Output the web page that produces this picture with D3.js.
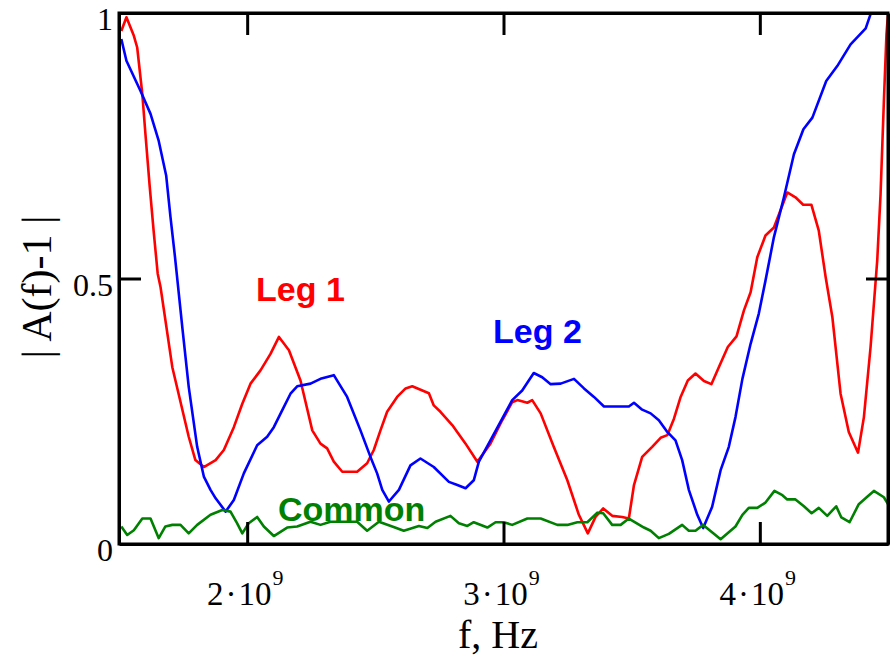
<!DOCTYPE html>
<html>
<head>
<meta charset="utf-8">
<script src="https://cdn.jsdelivr.net/npm/d3@7"></script>
<style>
  html, body { margin: 0; padding: 0; background: #fff; }
  svg { display: block; }
</style>
</head>
<body>
<svg id="chart" width="892" height="657"></svg>
<script>
// Frequencies in units of 1e9 Hz, magnitudes |A(f)-1|
const fLeg1 = [1.509,1.529,1.558,1.571,1.591,1.603,1.620,1.636,1.651,1.662,1.708,1.772,1.798,1.831,1.877,1.909,1.948,1.981,2.013,2.052,2.091,2.124,2.163,2.208,2.254,2.286,2.312,2.338,2.371,2.429,2.468,2.494,2.520,2.546,2.585,2.618,2.644,2.709,2.728,2.754,2.800,2.852,2.898,2.949,2.995,3.034,3.054,3.093,3.112,3.145,3.196,3.249,3.294,3.329,3.359,3.389,3.424,3.463,3.489,3.509,3.541,3.580,3.613,3.639,3.665,3.691,3.719,3.749,3.782,3.811,3.840,3.875,3.909,3.938,3.964,3.990,4.022,4.055,4.107,4.139,4.169,4.201,4.230,4.257,4.283,4.315,4.347,4.383,4.406,4.432,4.458,4.471,4.484,4.494,4.500];
const leg1 = [0.966,0.992,0.957,0.935,0.847,0.773,0.672,0.585,0.509,0.484,0.333,0.202,0.158,0.145,0.158,0.177,0.220,0.264,0.302,0.327,0.358,0.390,0.365,0.308,0.214,0.189,0.180,0.155,0.136,0.136,0.152,0.177,0.214,0.249,0.277,0.293,0.297,0.284,0.261,0.249,0.224,0.189,0.155,0.189,0.233,0.267,0.271,0.266,0.271,0.246,0.183,0.120,0.055,0.020,0.051,0.067,0.053,0.051,0.048,0.111,0.164,0.183,0.200,0.205,0.236,0.277,0.308,0.321,0.307,0.301,0.333,0.371,0.391,0.440,0.474,0.540,0.581,0.596,0.662,0.653,0.639,0.639,0.590,0.502,0.427,0.283,0.211,0.172,0.239,0.371,0.534,0.659,0.835,0.960,0.998];

const fLeg2 = [1.509,1.529,1.584,1.623,1.655,1.684,1.701,1.717,1.724,1.747,1.772,1.805,1.831,1.857,1.877,1.916,1.948,1.987,2.039,2.078,2.104,2.137,2.169,2.195,2.247,2.286,2.338,2.390,2.442,2.481,2.507,2.527,2.553,2.592,2.637,2.676,2.728,2.787,2.820,2.852,2.884,2.904,2.949,2.995,3.034,3.073,3.118,3.151,3.184,3.223,3.275,3.314,3.353,3.392,3.489,3.509,3.541,3.574,3.606,3.639,3.671,3.697,3.723,3.756,3.779,3.814,3.847,3.879,3.905,3.932,3.964,3.996,4.022,4.055,4.094,4.133,4.170,4.205,4.259,4.302,4.354,4.413,4.432];
const leg2 = [0.951,0.910,0.853,0.810,0.759,0.694,0.615,0.547,0.515,0.408,0.296,0.183,0.127,0.102,0.086,0.061,0.083,0.133,0.186,0.202,0.220,0.252,0.283,0.297,0.302,0.311,0.318,0.277,0.214,0.164,0.133,0.102,0.080,0.102,0.148,0.161,0.145,0.117,0.111,0.105,0.120,0.155,0.195,0.236,0.271,0.289,0.322,0.314,0.301,0.302,0.311,0.293,0.277,0.259,0.259,0.266,0.253,0.246,0.233,0.211,0.195,0.158,0.102,0.055,0.030,0.070,0.139,0.183,0.239,0.311,0.377,0.434,0.496,0.578,0.653,0.734,0.781,0.803,0.872,0.900,0.941,0.971,0.998];

const fCommon = [1.509,1.532,1.558,1.591,1.623,1.655,1.681,1.708,1.740,1.772,1.805,1.857,1.903,1.935,1.961,1.981,2.006,2.039,2.065,2.104,2.156,2.195,2.247,2.286,2.325,2.390,2.429,2.468,2.514,2.566,2.611,2.670,2.703,2.735,2.793,2.826,2.859,2.884,2.937,2.969,3.001,3.034,3.093,3.145,3.210,3.249,3.288,3.327,3.366,3.389,3.424,3.457,3.489,3.548,3.574,3.606,3.645,3.697,3.723,3.749,3.779,3.847,3.905,3.932,3.957,3.990,4.022,4.057,4.088,4.107,4.139,4.172,4.202,4.230,4.263,4.298,4.318,4.350,4.386,4.419,4.445,4.484,4.500];
const common = [0.033,0.017,0.026,0.048,0.048,0.011,0.033,0.036,0.036,0.020,0.036,0.055,0.064,0.061,0.039,0.020,0.039,0.051,0.033,0.015,0.031,0.033,0.042,0.036,0.042,0.042,0.042,0.025,0.042,0.033,0.025,0.034,0.030,0.042,0.053,0.039,0.034,0.041,0.031,0.041,0.041,0.036,0.048,0.048,0.036,0.036,0.041,0.041,0.059,0.058,0.036,0.036,0.048,0.031,0.025,0.011,0.019,0.036,0.025,0.025,0.036,0.009,0.033,0.055,0.068,0.068,0.078,0.100,0.092,0.084,0.084,0.071,0.058,0.068,0.053,0.071,0.050,0.041,0.075,0.089,0.100,0.088,0.075];

const xTicks = [2, 3, 4];          // mantissa of n·10^9
const xExponent = "9";
const yTicks = [0, 0.5, 1];
const yTickLabels = ["0", "0.5", "1"];

const seriesNames = ["Leg 1", "Leg 2", "Common"];
const seriesColors = ["#ff0000", "#0000ff", "#008000"];

// ---- layout ----
const plotLeft = 119, plotRight = 888, plotTop = 13, plotBottom = 544;
const svg = d3.select("#chart");

const x = d3.scaleLinear().domain([1.5e9, 4.5e9]).range([plotLeft, plotRight]);
const y = d3.scaleLinear().domain([0, 1]).range([plotBottom, plotTop]);

svg.append("defs").append("clipPath").attr("id", "plotClip")
  .append("rect").attr("x", plotLeft).attr("y", plotTop)
  .attr("width", plotRight - plotLeft).attr("height", plotBottom - plotTop);

// ---- curves ----
const line = d3.line().x(d => x(d[0] * 1e9)).y(d => y(d[1]));
const series = [
  d3.zip(fLeg1, leg1),
  d3.zip(fLeg2, leg2),
  d3.zip(fCommon, common)
];
const gLines = svg.append("g").attr("clip-path", "url(#plotClip)");
series.forEach((pts, i) => {
  gLines.append("path")
    .attr("d", line(pts))
    .attr("fill", "none")
    .attr("stroke", seriesColors[i])
    .attr("stroke-width", 2.6)
    .attr("stroke-linejoin", "round");
});

// ---- frame with inward ticks on all four sides ----
const tickLen = 22;
const xTickVals = xTicks.map(t => t * 1e9);
function styleAxis(g) {
  g.selectAll("text").remove();
  g.select(".domain").attr("stroke-width", 3);
  g.selectAll(".tick line").attr("stroke-width", 3);
}
svg.append("g").attr("transform", `translate(0,${plotBottom})`)
  .call(d3.axisBottom(x).tickValues(xTickVals).tickSizeInner(-tickLen).tickSizeOuter(0))
  .call(styleAxis);
svg.append("g").attr("transform", `translate(0,${plotTop})`)
  .call(d3.axisTop(x).tickValues(xTickVals).tickSizeInner(-tickLen).tickSizeOuter(0))
  .call(styleAxis);
svg.append("g").attr("transform", `translate(${plotLeft},0)`)
  .call(d3.axisLeft(y).tickValues([0.5]).tickSizeInner(-tickLen).tickSizeOuter(0))
  .call(styleAxis);
svg.append("g").attr("transform", `translate(${plotRight},0)`)
  .call(d3.axisRight(y).tickValues([0.5]).tickSizeInner(-tickLen).tickSizeOuter(0))
  .call(styleAxis);
svg.append("rect")
  .attr("x", plotLeft).attr("y", plotTop)
  .attr("width", plotRight - plotLeft).attr("height", plotBottom - plotTop)
  .attr("fill", "none").attr("stroke", "#000").attr("stroke-width", 3);

// ---- tick labels ----
const serif = "'Liberation Serif', 'Times New Roman', serif";
yTicks.forEach((v, i) => {
  svg.append("text")
    .attr("x", 113).attr("y", y(v) + 17)
    .attr("text-anchor", "end")
    .attr("font-family", serif).attr("font-size", 32)
    .attr("fill", "#000")
    .text(yTickLabels[i]);
});
xTicks.forEach(t => {
  const tx = svg.append("text")
    .attr("x", x(t * 1e9) - 2).attr("y", 605)
    .attr("text-anchor", "middle")
    .attr("font-family", serif).attr("font-size", 33)
    .attr("fill", "#000");
  tx.append("tspan").text(String(t));
  tx.append("tspan").attr("dx", 2).text("\u00B7");
  tx.append("tspan").attr("dx", 2).text("10");
  tx.append("tspan").attr("dx", 1).attr("dy", -20).attr("font-size", 22).text(xExponent);
});

// ---- axis titles ----
svg.append("text")
  .attr("x", 498).attr("y", 648)
  .attr("text-anchor", "middle")
  .attr("font-family", serif).attr("font-size", 40)
  .attr("fill", "#000")
  .text("f, Hz");
svg.append("text")
  .attr("transform", "translate(51,287) rotate(-90)")
  .attr("text-anchor", "middle")
  .attr("font-family", serif).attr("font-size", 42)
  .attr("fill", "#000")
  .text("| A(f)-1 |");

// ---- series annotations ----
const sans = "'Liberation Sans', Arial, sans-serif";
const labelPos = [[256, 301], [493, 343], [278, 521]];
seriesNames.forEach((name, i) => {
  svg.append("text")
    .attr("x", labelPos[i][0]).attr("y", labelPos[i][1])
    .attr("font-family", sans).attr("font-weight", "bold").attr("font-size", 34)
    .attr("fill", seriesColors[i])
    .text(name);
});
</script>
</body>
</html>
